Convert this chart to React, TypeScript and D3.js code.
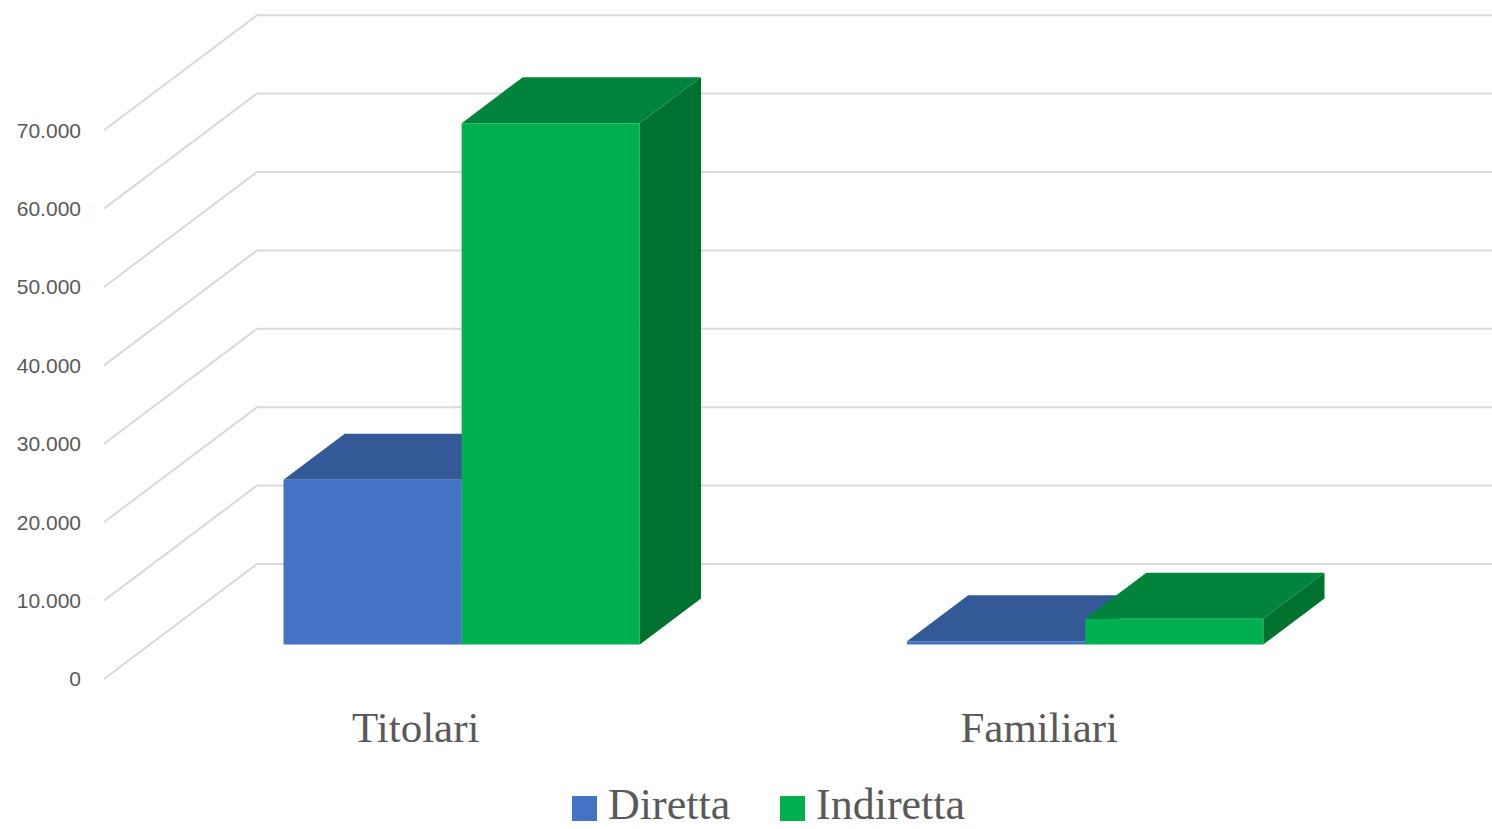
import * as React from 'react';
import * as d3 from 'd3';

const categories = ['Titolari', 'Familiari'];
const seriesNames = ['Diretta', 'Indiretta'];
const diretta = [21000, 400];
const indiretta = [66500, 3300];
const yTicks = [0, 10000, 20000, 30000, 40000, 50000, 60000, 70000];

const W = 1492;
const H = 829;

// oblique 3D projection: full floor depth vector
const depthX = 153;
const depthY = -115;
const barDepthFrom = 0.3;
const barDepthTo = 0.7;

const colors = [
    {front: '#4472C4', top: '#335A97', side: '#2D4F86'},
    {front: '#00B050', top: '#00843C', side: '#00712F'},
];

const itFormat = d3.formatLocale({decimal: ',', thousands: '.', grouping: [3], currency: ['', '']}).format(',');

export default function App() {
    const xBand = d3.scaleBand<string>().domain(categories).range([104, 1351]).padding(0);
    const yScale = d3.scaleLinear().domain([0, 70000]).range([679, 130.2]);
    const groupW = xBand.bandwidth() * 2 / 3.5;
    const xSeries = d3.scaleBand<string>().domain(seriesNames).range([0, groupW]).padding(0);
    const values = [diretta, indiretta];

    const proj = (x: number, v: number, d: number): [number, number] =>
        [x + d * depthX, yScale(v) + d * depthY];
    const poly = (pts: [number, number][]) => pts.map(p => p.join(',')).join(' ');

    const grid = yTicks.map((t) => {
        const [fx, fy] = proj(104, t, 0);
        const [bx, by] = proj(104, t, 1);
        return (
            <g key={'g' + t}>
                <line x1={fx} y1={fy} x2={bx} y2={by} stroke="#D9D9D9" strokeWidth={2}/>
                <line x1={bx} y1={by} x2={W} y2={by} stroke="#D9D9D9" strokeWidth={2}/>
                <text x={81} y={fy} dy="0.35em" textAnchor="end" fontFamily="'Liberation Sans', Arial, sans-serif"
                      fontSize={21} fill="#595959">{itFormat(t)}</text>
            </g>
        );
    });

    const bars: React.ReactNode[] = [];
    categories.forEach((c, ci) => {
        const gx = (xBand(c) as number) + (xBand.bandwidth() - groupW) / 2;
        seriesNames.forEach((s, si) => {
            const v = values[si][ci];
            const x0 = gx + (xSeries(s) as number);
            const x1 = x0 + xSeries.bandwidth();
            const col = colors[si];
            const top = [proj(x0, v, barDepthFrom), proj(x1, v, barDepthFrom), proj(x1, v, barDepthTo), proj(x0, v, barDepthTo)];
            const side = [proj(x1, 0, barDepthFrom), proj(x1, v, barDepthFrom), proj(x1, v, barDepthTo), proj(x1, 0, barDepthTo)];
            const front = [proj(x0, 0, barDepthFrom), proj(x1, 0, barDepthFrom), proj(x1, v, barDepthFrom), proj(x0, v, barDepthFrom)];
            bars.push(
                <g key={c + s}>
                    <polygon points={poly(top)} fill={col.top}/>
                    <polygon points={poly(side)} fill={col.side}/>
                    <polygon points={poly(front)} fill={col.front}/>
                </g>
            );
        });
    });

    const catLabels = categories.map((c) => (
        <text key={'c' + c} x={(xBand(c) as number) + xBand.bandwidth() / 2} y={742} textAnchor="middle"
              fontFamily="'Liberation Serif', 'Times New Roman', serif" fontSize={43} fill="#595959">{c}</text>
    ));

    const legendX = [572, 780];
    const legend = seriesNames.map((s, i) => (
        <g key={'l' + s}>
            <rect x={legendX[i]} y={796} width={25} height={25} fill={colors[i].front}/>
            <text x={legendX[i] + 36} y={819} fontFamily="'Liberation Serif', 'Times New Roman', serif" fontSize={44}
                  fill="#595959">{s}</text>
        </g>
    ));

    return (
        <svg width={W} height={H} viewBox={`0 0 ${W} ${H}`} style={{position: 'absolute', left: 0, top: 0}}
             xmlns="http://www.w3.org/2000/svg">
            <rect x={0} y={0} width={W} height={H} fill="#FFFFFF"/>
            {grid}
            {bars}
            {catLabels}
            {legend}
        </svg>
    );
}
